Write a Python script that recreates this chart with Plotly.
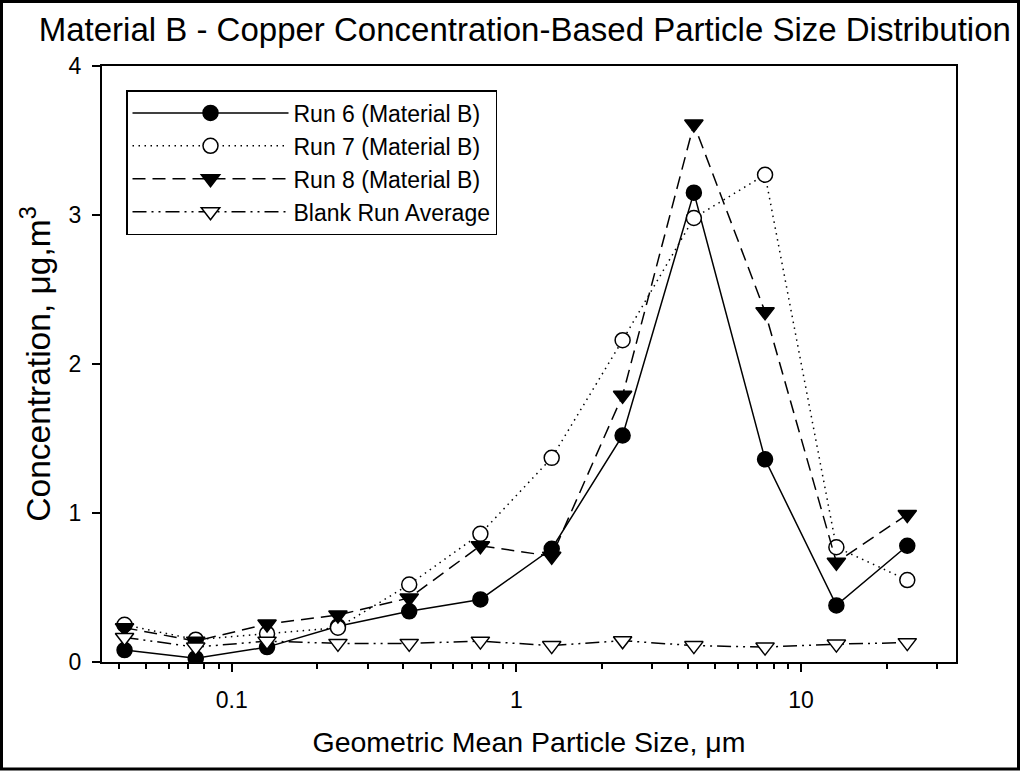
import plotly.graph_objects as go
import math

# ---- data ----
sizes = [0.042, 0.0747, 0.133, 0.236, 0.42, 0.747, 1.33, 2.36, 4.2, 7.47, 13.3, 23.6]
run6 = [0.08, 0.025, 0.10, 0.24, 0.34, 0.42, 0.76, 1.52, 3.15, 1.36, 0.38, 0.78]
run7 = [0.25, 0.15, 0.19, 0.23, 0.52, 0.86, 1.37, 2.16, 2.98, 3.27, 0.77, 0.55]
run8 = [0.23, 0.14, 0.255, 0.315, 0.43, 0.78, 0.71, 1.79, 3.61, 2.35, 0.67, 0.99]
blank = [0.165, 0.10, 0.14, 0.125, 0.125, 0.14, 0.11, 0.143, 0.11, 0.10, 0.12, 0.13]
names = ["Run 6 (Material B)", "Run 7 (Material B)", "Run 8 (Material B)", "Blank Run Average"]
x_ticks = [0.1, 1, 10]
x_ticktext = ["0.1", "1", "10"]
x_minor = [0.04, 0.05, 0.06, 0.07, 0.08, 0.09, 0.2, 0.3, 0.4, 0.5, 0.6, 0.7, 0.8, 0.9,
           2, 3, 4, 5, 6, 7, 8, 9, 20, 30]
y_ticks = [0, 1, 2, 3, 4]

FONT = "Arial, 'Liberation Sans', sans-serif"
W, H = 1021, 771
L, R, T, B = 102, 65, 66, 109
PW, PH = W - L - R, H - T - B

fig = go.Figure()
styles = [
    dict(line=dict(color="black", width=1.5, dash="solid"),
         marker=dict(symbol="circle", size=15, color="black", line=dict(color="black", width=1.5))),
    dict(line=dict(color="black", width=1.5, dash="1.5px,4.5px"),
         marker=dict(symbol="circle", size=15, color="white", line=dict(color="black", width=1.5))),
    dict(line=dict(color="black", width=1.5, dash="13px,7px"),
         marker=dict(symbol="triangle-down", size=16, color="black", line=dict(color="black", width=1.5))),
    dict(line=dict(color="black", width=1.5, dash="14px,5px,2px,5px,2px,5px"),
         marker=dict(symbol="triangle-down", size=16, color="white", line=dict(color="black", width=1.5))),
]
for name, ys, st in zip(names, [run6, run7, run8, blank], styles):
    fig.add_trace(go.Scatter(x=sizes, y=ys, name=name, mode="lines+markers", **st))

def px(xp):
    return (xp - L) / PW

def py(yp):
    return (H - B - yp) / PH

fig.add_shape(type="rect", xref="paper", yref="paper",
              x0=px(1.5), x1=px(W - 2.5), y0=py(H - 2), y1=py(1.5),
              line=dict(color="black", width=3), layer="above")

fig.update_layout(
    width=W, height=H,
    margin=dict(l=L, r=R, t=T, b=B),
    paper_bgcolor="white", plot_bgcolor="white",
    font=dict(family=FONT, color="black"),
    title=dict(text="Material B - Copper Concentration-Based Particle Size Distribution",
               font=dict(size=33, family=FONT, color="black"),
               x=0.514, xanchor="center", y=0.962, yanchor="middle"),
    showlegend=True,
    legend=dict(x=px(126), y=py(90), xanchor="left", yanchor="top",
                bgcolor="white", bordercolor="black", borderwidth=1.5,
                font=dict(size=23, family=FONT, color="black"),
                itemwidth=156, tracegroupgap=0),
    xaxis=dict(type="log", range=[math.log10(0.035), math.log10(35)],
               tickvals=x_ticks, ticktext=x_ticktext,
               ticks="outside", ticklen=8, tickwidth=1.5, tickcolor="black",
               ticklabelstandoff=8,
               tickfont=dict(size=23, family=FONT, color="black"),
               minor=dict(tickvals=x_minor, ticks="outside", ticklen=5, tickwidth=1.5, tickcolor="black"),
               showline=True, linecolor="black", linewidth=2, mirror=True,
               showgrid=False, zeroline=False,
               title=dict(text="Geometric Mean Particle Size, μm",
                          font=dict(size=28.5, family=FONT, color="black"), standoff=20)),
    yaxis=dict(range=[0, 4], tickvals=y_ticks,
               ticks="outside", ticklen=8, tickwidth=1.5, tickcolor="black",
               ticklabelstandoff=6,
               tickfont=dict(size=23, family=FONT, color="black"),
               showline=True, linecolor="black", linewidth=2, mirror=True,
               showgrid=False, zeroline=False,
               title=dict(text="Concentration, μg,m<sup>3</sup>",
                          font=dict(size=33.5, family=FONT, color="black"), standoff=8)),
)

fig.write_html("out.html")
